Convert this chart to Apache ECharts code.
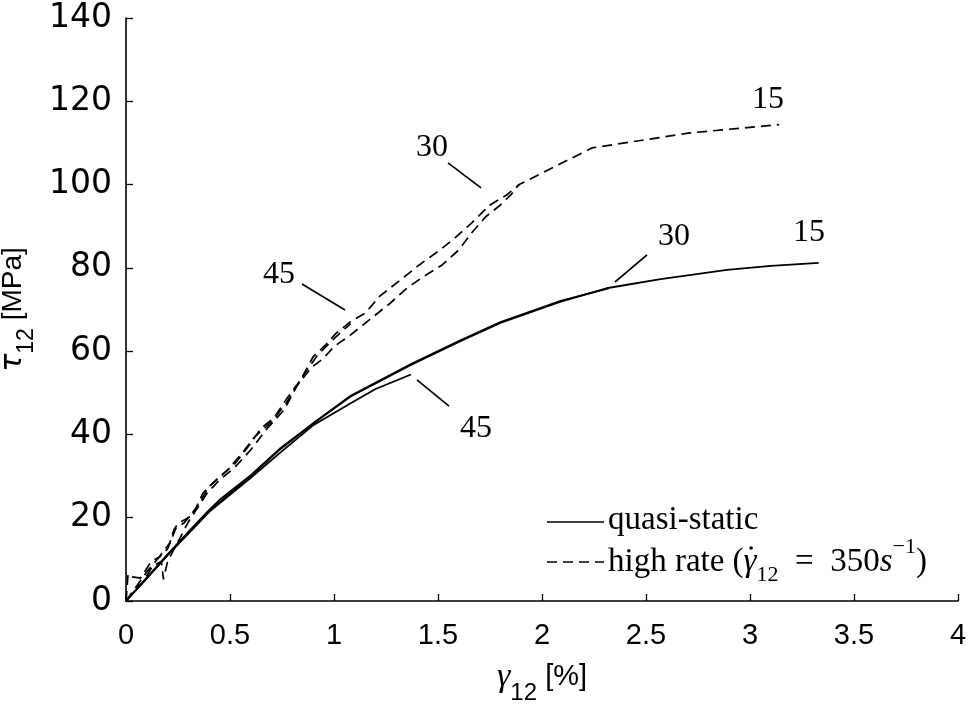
<!DOCTYPE html>
<html>
<head>
<meta charset="utf-8">
<script src="https://cdn.jsdelivr.net/npm/echarts@6/dist/echarts.min.js"></script>
<style>
html,body{margin:0;padding:0;background:#fff;}
#chart{width:969px;height:712px;}
</style>
</head>
<body>
<div id="chart"></div>
<script>
// ---- data (gamma12 [%], tau12 [MPa]) ----
const qs15 = [[0,0],[0.1,5.6],[0.2,11.2],[0.3,16.6],[0.4,21.9],[0.45,24.3],[0.6,30.2],[0.74,36.6],[0.9,42.6],[1.08,49.1],[1.37,56.7],[1.6,62.2],[1.8,66.8],[2.09,71.9],[2.31,75.1],[2.57,77.3],[2.89,79.5],[3.1,80.5],[3.33,81.2]];
const qs30 = [[0,0],[0.1,5.4],[0.2,11.0],[0.3,16.4],[0.4,21.6],[0.6,30.0],[0.74,36.4],[0.9,42.7],[1.08,49.3],[1.37,56.9],[1.6,62.4],[1.8,67.0],[2.09,72.1],[2.32,75.1]];
const qs45 = [[0,0],[0.1,5.5],[0.2,11.0],[0.3,16.2],[0.4,21.4],[0.6,29.6],[0.75,36.0],[0.9,42.2],[1.08,47.5],[1.2,50.9],[1.37,54.4]];
const hr15 = [[0,0],[0.01,6.5],[0.03,5.8],[0.07,5.5],[0.12,9.4],[0.16,10.6],[0.21,13.9],[0.23,17.1],[0.25,18.6],[0.32,20.6],[0.37,25.9],[0.45,29.9],[0.52,32.7],[0.6,37.9],[0.65,41.5],[0.71,43.9],[0.78,49.1],[0.84,53.1],[0.9,58.7],[0.96,61.5],[1.01,64.3],[1.08,67.1],[1.15,69.1],[1.22,73.2],[1.33,77.5],[1.41,80.7],[1.51,84.3],[1.58,87.1],[1.66,90.7],[1.75,95.1],[1.83,97.5],[1.89,100.0],[2.24,108.8],[2.71,112.4],[3.14,114.4]];
const hr30 = [[0,0],[0.04,2.5],[0.08,4.5],[0.13,8.5],[0.17,9.5],[0.18,5.2],[0.2,9.5],[0.25,14.2],[0.3,19.0],[0.39,25.9],[0.45,29.1],[0.52,31.9],[0.6,36.3],[0.68,41.5],[0.76,45.9],[0.82,51.5],[0.89,56.0],[0.95,58.3],[1.0,61.1],[1.08,63.9],[1.17,67.5],[1.27,71.5],[1.35,75.1],[1.43,77.9],[1.52,80.7],[1.6,84.3],[1.66,88.3],[1.73,92.3],[1.8,95.1],[1.85,97.5],[1.89,100.0]];
const hr45 = [[0,0],[0.05,3.5],[0.1,7.0],[0.15,10.0],[0.2,12.5],[0.24,17.5],[0.28,18.8],[0.34,22.5],[0.4,27.5],[0.48,31.0],[0.55,35.0],[0.62,39.5],[0.7,43.0],[0.77,47.5],[0.85,54.0],[0.92,59.0],[1.0,63.0],[1.08,66.6]];

// annotation labels (data units)
const annText = ['15','30','45','30','15','45'];
const annX = [3.087, 1.471, 0.736, 2.635, 3.284, 1.683];
const annY = [120.3, 108.8, 78.5, 87.4, 88.4, 41.3];
// leader lines [x1,y1,x2,y2]
const leaders = [[1.548,105.2,1.707,99.2],[0.846,76.1,1.053,69.9],[2.351,76.6,2.505,83.1],[1.399,53.1,1.553,46.8]];

const xTicks = {min:0, max:4, interval:0.5};
const yTicks = {min:0, max:140, interval:20};

const chart = echarts.init(document.getElementById('chart'), null, {renderer:'canvas'});
const solid = {color:'#000', width:1.8, type:'solid'};
const dashed = {color:'#000', width:1.7, type:[10,6]};
function lineSeries(name, data, style){
  return {name, type:'line', data, showSymbol:false, symbol:'none', lineStyle:style, silent:true, animation:false, z:3};
}
const serif = 'Liberation Serif, DejaVu Serif, serif';
const LFS = 33; // legend font size

// measure legend text to place the dot over gamma
const mctx = document.createElement('canvas').getContext('2d');
mctx.font = LFS + 'px "Liberation Serif"';
const wPre = mctx.measureText('high rate (').width;
mctx.font = 'italic ' + LFS + 'px "Liberation Serif"';
const wG = mctx.measureText('γ').width;

const option = {
  animation:false,
  backgroundColor:'#fff',
  grid:{left:126, right:11, top:18, bottom:111, containLabel:false, outerBoundsMode:'none'},
  xAxis:{
    type:'value', min:xTicks.min, max:xTicks.max, interval:xTicks.interval,
    axisLine:{show:true, onZero:false, lineStyle:{color:'#000', width:1.6}},
    axisTick:{show:true, inside:true, length:7, lineStyle:{color:'#000', width:1.3}},
    splitLine:{show:false},
    axisLabel:{color:'#000', fontSize:29, fontFamily:'Liberation Sans Narrow, Liberation Sans, Arial, sans-serif', margin:20},
    name:'{g|γ}{s|12}{n| [%]}', nameLocation:'middle', nameGap:58,
    nameTextStyle:{rich:{
      g:{fontFamily:serif, fontStyle:'italic', fontSize:34, color:'#000', lineHeight:36},
      s:{fontFamily:'Liberation Sans, sans-serif', fontSize:24, color:'#000', verticalAlign:'bottom', lineHeight:22, padding:[0,0,-10,0]},
      n:{fontFamily:'Liberation Sans, sans-serif', fontSize:29, color:'#000', lineHeight:36}
    }}
  },
  yAxis:{
    type:'value', min:yTicks.min, max:yTicks.max, interval:yTicks.interval,
    axisLine:{show:true, onZero:false, lineStyle:{color:'#000', width:1.6}},
    axisTick:{show:true, inside:true, length:7, lineStyle:{color:'#000', width:1.3}},
    splitLine:{show:false},
    axisLabel:{color:'#000', fontSize:33, fontFamily:'DejaVu Sans, sans-serif', margin:14},
    name:'{t|τ}{s|12}{n| [MPa]}', nameLocation:'middle', nameGap:72, nameRotate:90,
    nameTextStyle:{rich:{
      t:{fontFamily:'DejaVu Sans, sans-serif', fontStyle:'italic', fontSize:30, color:'#000', lineHeight:34},
      s:{fontFamily:'Liberation Sans, sans-serif', fontSize:23, color:'#000', verticalAlign:'bottom', lineHeight:22, padding:[0,0,-8,0]},
      n:{fontFamily:'Liberation Sans, sans-serif', fontSize:28, color:'#000', lineHeight:34}
    }}
  },
  series:[
    lineSeries('qs15', qs15, solid),
    lineSeries('qs30', qs30, solid),
    lineSeries('qs45', qs45, solid),
    lineSeries('hr15', hr15, dashed),
    lineSeries('hr30', hr30, dashed),
    lineSeries('hr45', hr45, dashed),
    {
      type:'scatter', silent:true, animation:false, symbolSize:0,
      itemStyle:{opacity:1},
      data: annText.map((t,i)=>({name:t, value:[annX[i], annY[i]]})),
      label:{show:true, position:'inside', formatter:p=>p.name, color:'#000', opacity:1, fontFamily:serif, fontSize:32},
      markLine:{
        silent:true, symbol:['none','none'], animation:false,
        label:{show:false},
        lineStyle:{color:'#000', width:1.7, type:'solid', opacity:1},
        data: leaders.map(l=>[{coord:[l[0],l[1]]},{coord:[l[2],l[3]]}])
      }
    }
  ],
  graphic:[
    {type:'line', shape:{x1:547,y1:522,x2:604,y2:522}, style:{stroke:'#000', lineWidth:1.7}},
    {type:'text', x:608, y:520, style:{text:'quasi-static', font:LFS+'px Liberation Serif', fill:'#000', verticalAlign:'middle'}},
    {type:'line', shape:{x1:547,y1:562,x2:604,y2:562}, style:{stroke:'#000', lineWidth:1.7, lineDash:[10,6]}},
    {type:'text', x:608, y:562, style:{
      verticalAlign:'middle',
      text:'{n|high rate (}{g|γ}{s|12}{n|  =  350}{g|s}{p|−1}{n|)}',
      rich:{
        n:{fontFamily:serif, fontSize:LFS, fill:'#000', lineHeight:40},
        g:{fontFamily:serif, fontStyle:'italic', fontSize:LFS, fill:'#000', lineHeight:40},
        s:{fontFamily:serif, fontSize:22, fill:'#000', verticalAlign:'bottom', lineHeight:24, padding:[0,0,-4,0]},
        p:{fontFamily:serif, fontSize:22, fill:'#000', verticalAlign:'top', lineHeight:22, padding:[-6,0,0,0]}
      }
    }},
    {type:'circle', shape:{cx:608 + wPre + wG*0.5 + 1, cy:548, r:1.8}, style:{fill:'#000'}}
  ]
};
chart.setOption(option);
</script>
</body>
</html>
